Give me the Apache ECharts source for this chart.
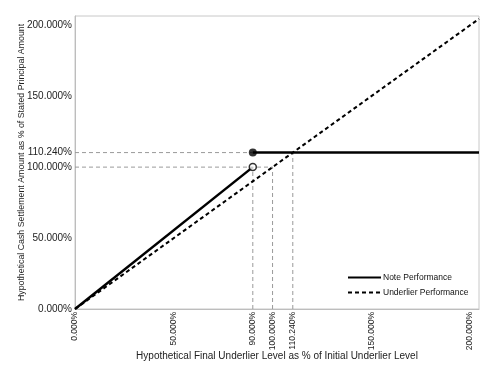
<!DOCTYPE html>
<html>
<head>
<meta charset="utf-8">
<script src="https://cdn.jsdelivr.net/npm/echarts@6/dist/echarts.min.js"></script>
<style>html,body{margin:0;padding:0;background:#fff;}#c{width:498px;height:374px;}</style>
</head>
<body>
<div id="c"></div>
<script>
const xTicks = [0, 50, 90, 100, 110.24, 150, 200];
const yTicks = [0, 50, 100, 110.24, 150, 200];
const noteBelow = [[0, 0], [90, 100]];
const noteAbove = [[90, 110.24], [204.5, 110.24]];
const underlier = [[0, 0], [204.5, 204.5]];
const openPoint = [[90, 100]];
const filledPoint = [[90, 110.24]];
const guideLines = [
  [[0, 110.24], [90, 110.24]],
  [[0, 100], [100, 100]],
  [[90, 0], [90, 100]],
  [[100, 0], [100, 100]],
  [[110.24, 0], [110.24, 110.24]]
];
const xTitle = 'Hypothetical Final Underlier Level as % of Initial Underlier Level';
const yTitle = 'Hypothetical Cash Settlement Amount as % of Stated Principal Amount';

const font = 'Liberation Sans, Arial, sans-serif';
const fmt = v => v.toFixed(3) + '%';

const guideSeries = guideLines.map(d => ({
  type: 'line', data: d, symbol: 'none', silent: true, z: 1,
  lineStyle: { color: '#9a9a9a', width: 1, type: [4, 3] }
}));

const chart = echarts.init(document.getElementById('c'), null, { renderer: 'canvas' });
chart.setOption({
  animation: false,
  backgroundColor: '#fff',
  grid: { left: 75, right: 19, top: 16, bottom: 65, show: true, borderColor: '#c8c8c8', borderWidth: 1,
          containLabel: false, outerBoundsMode: 'none' },
  xAxis: {
    type: 'value', min: 0, max: 204.5,
    name: xTitle, nameLocation: 'middle', nameGap: 42, nameMoveOverlap: false,
    nameTextStyle: { fontFamily: font, fontSize: 10, color: '#222' },
    axisLine: { show: true, lineStyle: { color: '#bdbdbd' } },
    axisTick: { show: false },
    splitLine: { show: false },
    axisLabel: { customValues: xTicks, formatter: fmt, rotate: 90, margin: 3, fontFamily: font, fontSize: 8.5, color: '#222' }
  },
  yAxis: {
    type: 'value', min: 0, max: 206.5,
    name: yTitle, nameLocation: 'middle', nameGap: 49, nameRotate: 90, nameMoveOverlap: false,
    nameTextStyle: { fontFamily: font, fontSize: 8.8, color: '#222' },
    axisLine: { show: true, lineStyle: { color: '#bdbdbd' } },
    axisTick: { show: false },
    splitLine: { show: false },
    axisLabel: { customValues: yTicks, formatter: fmt, margin: 3, fontFamily: font, fontSize: 10, color: '#222' }
  },
  legend: {
    data: ['Note Performance', 'Underlier Performance'],
    orient: 'vertical', left: 347, top: 273, padding: 0, itemWidth: 33, itemHeight: 8, itemGap: 6,
    itemStyle: { opacity: 0 },
    textStyle: { fontFamily: font, fontSize: 8.5, color: '#111', padding: [0, 0, 0, -3] }
  },
  series: guideSeries.concat([
    {
      name: 'Underlier Performance', type: 'line', data: underlier, symbol: 'none', z: 3,
      lineStyle: { color: '#000', width: 2, type: [4, 3] }, itemStyle: { color: '#000' }
    },
    {
      name: 'Note Performance', type: 'line', data: noteBelow, symbol: 'none', z: 4,
      lineStyle: { color: '#000', width: 2.5 }, itemStyle: { color: '#000' }
    },
    {
      name: 'Note Performance', type: 'line', data: noteAbove, symbol: 'none', z: 4,
      lineStyle: { color: '#000', width: 2.5 }, itemStyle: { color: '#000' }
    },
    {
      type: 'scatter', data: openPoint, symbol: 'circle', symbolSize: 7, z: 5,
      itemStyle: { color: '#fff', borderColor: '#000', borderWidth: 1.5 }
    },
    {
      type: 'scatter', data: filledPoint, symbol: 'circle', symbolSize: 8, z: 5,
      itemStyle: { color: '#000' }
    }
  ])
});
</script>
</body>
</html>
